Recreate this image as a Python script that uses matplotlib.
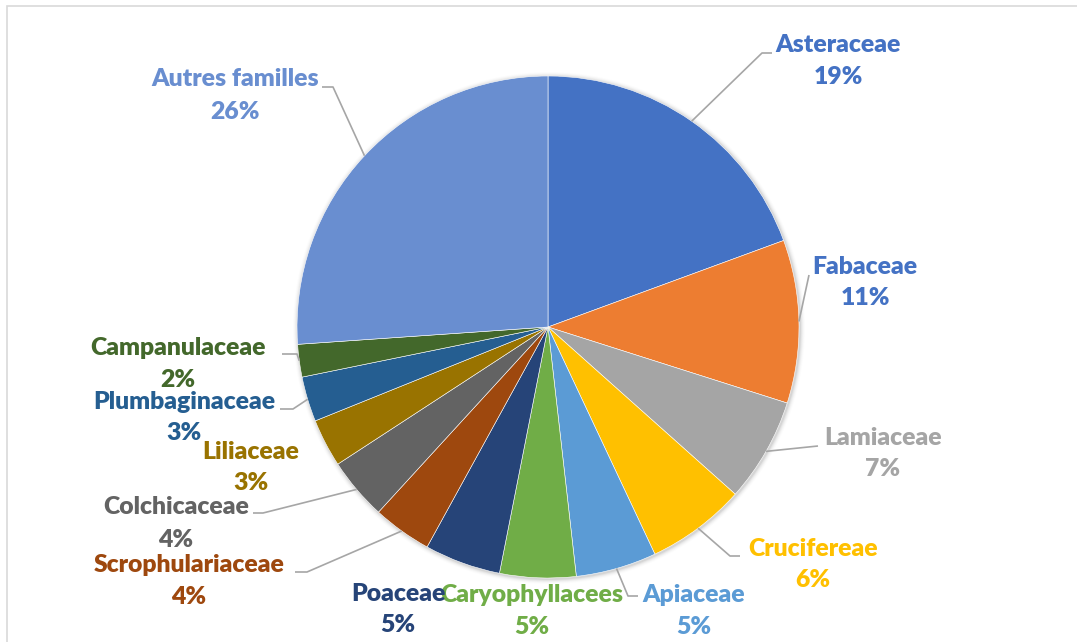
import numpy as np
import matplotlib
matplotlib.use("Agg")
import matplotlib.pyplot as plt
from matplotlib.patches import Rectangle, Circle

# ---- data ----
families = ["Asteraceae", "Fabaceae", "Lamiaceae", "Crucifereae", "Apiaceae",
            "Caryophyllacees", "Poaceae", "Scrophulariaceae", "Colchicaceae",
            "Liliaceae", "Plumbaginaceae", "Campanulaceae", "Autres familles"]
shares = [19.4, 10.5, 6.7, 6.4, 5.2, 4.9, 4.9, 3.8, 4.0, 3.1, 2.9, 2.1, 26.1]
pct_labels = ["19%", "11%", "7%", "6%", "5%", "5%", "5%", "4%", "4%",
              "3%", "3%", "2%", "26%"]

# ---- styles ----
slice_colors = ["#4472C4", "#ED7D31", "#A5A5A5", "#FFC000", "#5B9BD5", "#70AD47",
                "#264478", "#9E480E", "#636363", "#997300", "#255E91", "#43682B",
                "#698ED0"]
label_colors = ["#4472C4", "#4472C4", "#A5A5A5", "#FFC000", "#5B9BD5", "#70AD47",
                "#264478", "#9E480E", "#636363", "#997300", "#255E91", "#43682B",
                "#698ED0"]

W, H = 1077, 642
CX, CY, R = 548, 327, 251  # pixel layout of the pie

# label layout (pixel coords: x center, name y, pct y)
label_pos = [(838, 45, 77), (865, 267, 298), (883, 438, 469), (813, 549, 580),
             (694, 595, 627), (532, 595, 627), (398, 594, 625), (189, 565, 597),
             (176, 507, 540), (251, 452, 483), (184, 402, 433), (178, 348, 380),
             (235, 79, 112)]
# leader elbows (pixel) ; None = no leader
leader_pts = [[(762, 53), (772, 53)], [(809, 275)], [(818, 446)],
              [(730, 556), (740, 556)], [(628, 596), (638, 596)], None, None,
              [(307, 572), (295, 572)], [(263, 513), (253, 513)], None,
              [(293, 409), (280, 409)], [(297, 354), (282, 354)],
              [(333, 87), (322, 87)]]

def Y(y):
    return H - y

fig = plt.figure(figsize=(W / 100, H / 100), dpi=100)
ax = fig.add_axes([0, 0, 1, 1])

# frame
fig.patches.append(Rectangle((7 / W, -0.1), 2, (H - 6) / H + 0.1,
                             transform=fig.transFigure, fill=False,
                             edgecolor="#D9D9D9", lw=1.2))

# soft shadow
for i, a in enumerate([0.06, 0.045, 0.03, 0.02, 0.01]):
    ax.add_patch(Circle((CX + 1, Y(CY) - 1), R + 1 + i, color="#000000",
                        alpha=a, lw=0, zorder=1))

wedges, _ = ax.pie(shares, colors=slice_colors, startangle=90,
                   counterclock=False, radius=R, center=(CX, Y(CY)),
                   wedgeprops=dict(edgecolor="white", linewidth=0.4),
                   frame=True)
for w in wedges:
    w.set_zorder(2)
ax.set_xlim(0, W)
ax.set_ylim(0, H)
ax.set_axis_off()
ax.set_aspect("equal")

font = dict(family=["Lato", "DejaVu Sans"], fontweight="heavy", fontsize=17.8)

for i, w in enumerate(wedges):
    mid = np.deg2rad((w.theta1 + w.theta2) / 2)
    px = CX + R * np.cos(mid)
    py = Y(CY) + R * np.sin(mid)
    if leader_pts[i] is not None:
        xs = [px] + [p[0] for p in leader_pts[i]]
        ys = [py] + [Y(p[1]) for p in leader_pts[i]]
        ax.plot(xs, ys, color="#A6A6A6", lw=1.2, zorder=3,
                solid_capstyle="butt")
    lx, ny, py2 = label_pos[i]
    ax.text(lx, Y(ny), families[i], ha="center", va="center",
            color=label_colors[i], zorder=4, **font)
    ax.text(lx, Y(py2), pct_labels[i], ha="center", va="center",
            color=label_colors[i], zorder=4, **font)

fig.savefig("out.png", dpi=100, facecolor="white")
